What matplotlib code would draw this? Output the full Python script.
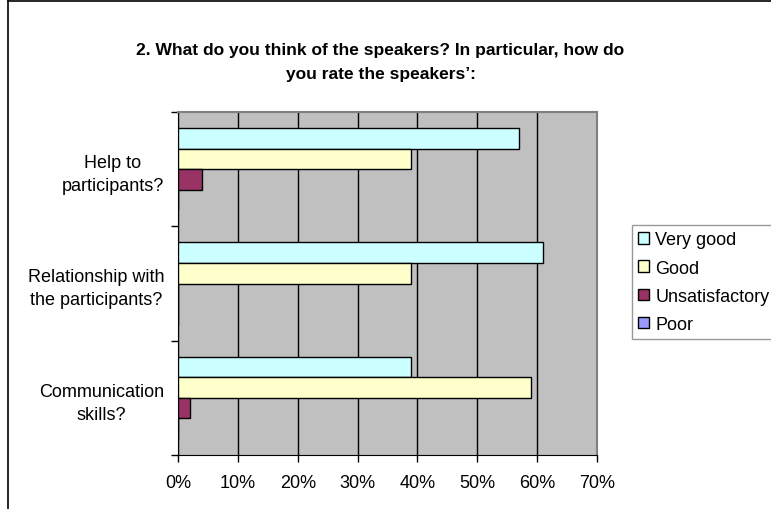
import numpy as np
import matplotlib.pyplot as plt
from matplotlib.lines import Line2D
from matplotlib.ticker import FixedLocator, PercentFormatter

plt.rcParams['font.family'] = ['Liberation Sans', 'DejaVu Sans']

# categories from bottom to top
categories = ['Communication\nskills?', 'Relationship with\nthe participants?', 'Help to\nparticipants?']
series = ['Very good', 'Good', 'Unsatisfactory', 'Poor']
very_good = [39, 61, 57]
good = [59, 39, 39]
unsatisfactory = [2, 0, 4]
poor = [0, 0, 0]
colors = ['#CCFFFF', '#FFFFCC', '#993366', '#9999FF']

fig = plt.figure(figsize=(7.71, 5.10), dpi=100)
ax = fig.add_axes([178/771, 1-456/510, 419/771, 343/510])

y = np.arange(len(categories))
h = 0.18
offsets = [1.5*h, 0.5*h, -0.5*h, -1.5*h]
for vals, off, col, name in zip([very_good, good, unsatisfactory, poor], offsets, colors, series):
    ax.barh(y + off, vals, height=h, color=col, edgecolor='black', linewidth=1, label=name, zorder=3)

ax.set_facecolor('#C0C0C0')
ax.set_xlim(0, 70)
ax.set_ylim(-0.5, 2.5)
ax.set_xticks(np.arange(0, 71, 10))
ax.xaxis.set_major_formatter(PercentFormatter(decimals=0))
ax.grid(axis='x', color='black', linewidth=1, zorder=1)
ax.tick_params(axis='x', direction='out', length=5, width=1, pad=9, labelsize=13)

ax.set_yticks([-0.5, 0.5, 1.5, 2.5])
ax.set_yticklabels([])
ax.yaxis.set_minor_locator(FixedLocator(y))
ax.set_yticklabels(categories, minor=True, fontsize=13, multialignment='center', linespacing=1.45)
ax.tick_params(axis='y', which='major', direction='out', length=5, width=1)
ax.tick_params(axis='y', which='minor', length=0, pad=10)

for s in ['left', 'bottom']:
    ax.spines[s].set_color('black')
for s in ['top', 'right']:
    ax.spines[s].set_color('#808080')
    ax.spines[s].set_linewidth(1.5)

fig.text(0.5 - 5/771, 1-50/510, '2. What do you think of the speakers? In particular, how do',
         ha='center', va='center', fontsize=12.5, fontweight='bold')
fig.text(0.5 - 5/771, 1-75/510, 'you rate the speakers\u2019:',
         ha='center', va='center', fontsize=12.5, fontweight='bold')

leg = fig.legend(loc='upper left', bbox_to_anchor=(632/771, 1-226/510), fontsize=13,
                 frameon=True, fancybox=False, edgecolor='#808080', borderaxespad=0,
                 handlelength=0.6, handleheight=0.6, handletextpad=0.35, labelspacing=0.62,
                 borderpad=0.35)
leg.get_frame().set_linewidth(1)

# chart border (top and left only visible)
fig.add_artist(Line2D([8/771, 8/771], [0, 1-2/510], color='black', linewidth=1.2, transform=fig.transFigure))
fig.add_artist(Line2D([8/771, 1], [1-2/510, 1-2/510], color='black', linewidth=1.2, transform=fig.transFigure))

fig.savefig('out.png', dpi=100)
